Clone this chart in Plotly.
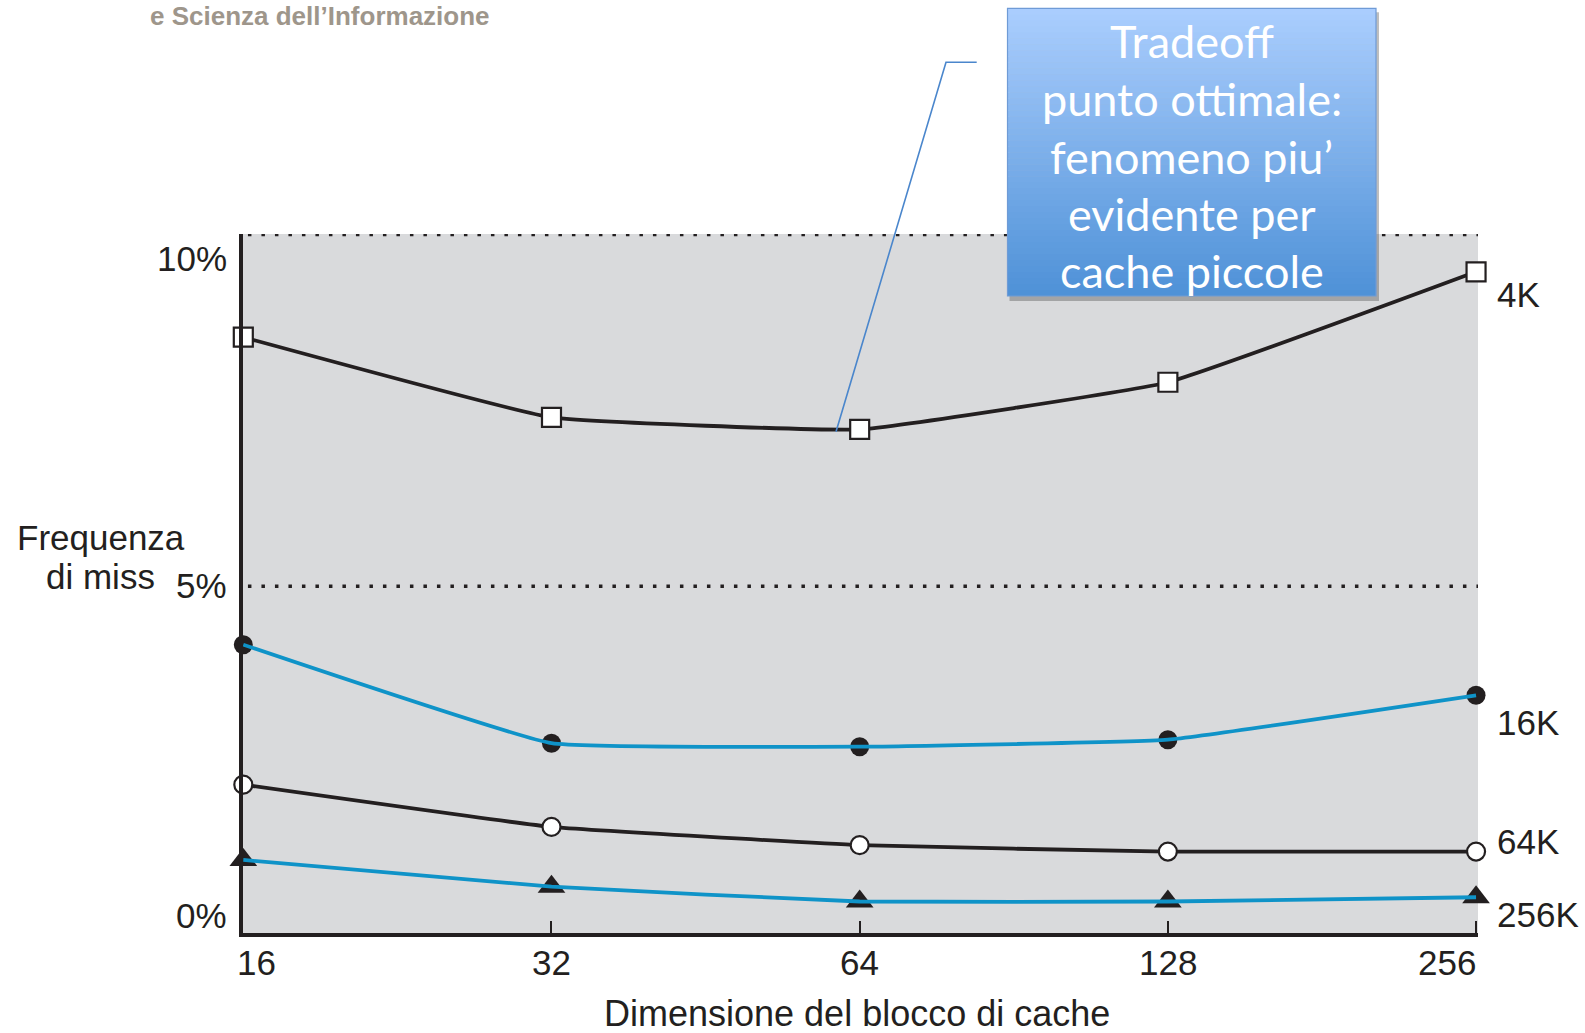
import math
import plotly.graph_objects as go

# Miss rate (%) by cache block size, one series per cache capacity
block_sizes = [16, 32, 64, 128, 256]
block_tick_labels = ["16", "32", "64", "128", "256"]
miss_4k = [8.54, 7.40, 7.23, 7.90, 9.47]
miss_16k = [4.17, 2.77, 2.72, 2.82, 3.45]
miss_64k = [2.18, 1.58, 1.32, 1.23, 1.23]
miss_256k = [1.11, 0.73, 0.52, 0.52, 0.58]
cache_labels = ["4K", "16K", "64K", "256K"]
y_tick_vals = [10, 5, 0]
y_tick_text = ["10%", "5%", "0%"]
callout_lines = ["Tradeoff", "punto ottimale:", "fenomeno piu’", "evidente per", "cache piccole"]

W, H = 1585, 1033
L, R, T, B = 243, 107, 234, 100
PW, PH = W - L - R, H - T - B

INK = "#231f20"
BLUE = "#0f93c8"
FONT = "Liberation Sans, Arial, Helvetica, sans-serif"


def px_x(p):
    return (p - L) / PW


def px_y(p):
    return (T + PH - p) / PH


fig = go.Figure()

# 4K: black line, open squares
fig.add_trace(go.Scatter(
    x=block_sizes, y=miss_4k, mode="lines+markers", cliponaxis=False,
    line=dict(color=INK, width=3.8, shape="spline", smoothing=0.3),
    marker=dict(symbol="square", size=19, color="white", line=dict(color=INK, width=2.2)),
    showlegend=False, hoverinfo="skip"))

# 64K: black line, open circles
fig.add_trace(go.Scatter(
    x=block_sizes, y=miss_64k, mode="lines+markers", cliponaxis=False,
    line=dict(color=INK, width=3.8, shape="spline", smoothing=0.3),
    marker=dict(symbol="circle", size=18, color="white", line=dict(color=INK, width=2.2)),
    showlegend=False, hoverinfo="skip"))

# 16K: filled circles under a blue line
fig.add_trace(go.Scatter(
    x=block_sizes, y=miss_16k, mode="markers", cliponaxis=False,
    marker=dict(symbol="circle", size=19, color=INK),
    showlegend=False, hoverinfo="skip"))
fig.add_trace(go.Scatter(
    x=block_sizes, y=miss_16k, mode="lines", cliponaxis=False,
    line=dict(color=BLUE, width=3.8, shape="spline", smoothing=0.3),
    showlegend=False, hoverinfo="skip"))

# 256K: filled triangles under a blue line
fig.add_trace(go.Scatter(
    x=block_sizes, y=miss_256k, mode="markers", cliponaxis=False,
    marker=dict(symbol="triangle-up", size=24, color=INK),
    showlegend=False, hoverinfo="skip"))
fig.add_trace(go.Scatter(
    x=block_sizes, y=miss_256k, mode="lines", cliponaxis=False,
    line=dict(color=BLUE, width=3.8, shape="spline", smoothing=0.3),
    showlegend=False, hoverinfo="skip"))

shapes = []
# dotted reference lines at 5% and 10%
for v in (5, 10):
    shapes.append(dict(type="line", xref="paper", yref="y", x0=0.004, x1=1, y0=v, y1=v,
                       line=dict(color=INK, width=3.5, dash="3.5px,10px"), layer="below"))

# callout box: shadow, vertical gradient, border
bx0, bx1, by0, by1 = 1007.5, 1376, 8.3, 296
shapes.append(dict(type="rect", xref="paper", yref="paper",
                   x0=px_x(bx0 + 2), x1=px_x(bx1 + 3), y0=px_y(by0 + 4), y1=px_y(by1 + 5),
                   fillcolor="rgba(40,40,40,0.30)", line=dict(width=0), layer="above"))
top_rgb = (171, 206, 254)
bot_rgb = (78, 145, 215)
N = 48
step = (by1 - by0) / N
for i in range(N):
    t = (i + 0.5) / N
    c = tuple(round(a + (b - a) * t) for a, b in zip(top_rgb, bot_rgb))
    shapes.append(dict(type="rect", xref="paper", yref="paper",
                       x0=px_x(bx0), x1=px_x(bx1),
                       y0=px_y(by0 + i * step), y1=px_y(min(by1, by0 + (i + 1) * step + 0.6)),
                       fillcolor="rgb(%d,%d,%d)" % c, line=dict(width=0), layer="above"))
shapes.append(dict(type="rect", xref="paper", yref="paper",
                   x0=px_x(bx0), x1=px_x(bx1), y0=px_y(by0), y1=px_y(by1),
                   fillcolor="rgba(0,0,0,0)", line=dict(color="#6f9bd6", width=1.2), layer="above"))

# callout leader line down to the 64-byte point of the 4K curve
path = "M %f,%f L %f,%f L %f,%f" % (px_x(976.7), px_y(62.3), px_x(946), px_y(62.3),
                                    px_x(836), px_y(431.7))
shapes.append(dict(type="path", xref="paper", yref="paper", path=path,
                   line=dict(color="#4a86cc", width=1.6), layer="above"))

annotations = []
# callout text
line_centers = [41.4, 99, 156.7, 214.3, 271]
for txt, yc in zip(callout_lines, line_centers):
    annotations.append(dict(text=txt, xref="paper", yref="paper", x=px_x(1191.5), y=px_y(yc),
                            xanchor="center", yanchor="middle", showarrow=False,
                            font=dict(family="Lato, Open Sans, sans-serif", size=45, color="white")))

# x tick labels (annotation x on a log axis is given in log10 units)
x_shifts = [13, 0, 0, 0, -29]
for xv, lab, sh in zip(block_sizes, block_tick_labels, x_shifts):
    annotations.append(dict(text=lab, xref="x", yref="paper", x=math.log10(xv), y=px_y(962.5),
                            xanchor="center", yanchor="middle", xshift=sh, showarrow=False,
                            font=dict(family=FONT, size=35, color=INK)))

# y tick labels
y_label_px = [258, 585, 915]
for lab, yp in zip(y_tick_text, y_label_px):
    annotations.append(dict(text=lab, xref="paper", yref="paper", x=px_x(229), y=px_y(yp),
                            xanchor="right", yanchor="middle", showarrow=False,
                            font=dict(family=FONT, size=35, color=INK)))

# series labels at the right end
last_vals = [miss_4k[-1], miss_16k[-1], miss_64k[-1], miss_256k[-1]]
y_shifts = [-23, -27, 10, -17]
for lab, v, ys in zip(cache_labels, last_vals, y_shifts):
    annotations.append(dict(text=lab, xref="x", yref="y", x=math.log10(block_sizes[-1]), y=v,
                            xanchor="left", yanchor="middle", xshift=19, yshift=ys,
                            showarrow=False, font=dict(family=FONT, size=35, color=INK)))

# axis titles
annotations.append(dict(text="Frequenza", xref="paper", yref="paper", x=px_x(101), y=px_y(537),
                        xanchor="center", yanchor="middle", showarrow=False,
                        font=dict(family=FONT, size=35, color=INK)))
annotations.append(dict(text="di miss", xref="paper", yref="paper", x=px_x(100), y=px_y(576),
                        xanchor="center", yanchor="middle", showarrow=False,
                        font=dict(family=FONT, size=35, color=INK)))
annotations.append(dict(text="Dimensione del blocco di cache", xref="paper", yref="paper",
                        x=px_x(857), y=px_y(1013), xanchor="center", yanchor="middle",
                        showarrow=False, font=dict(family=FONT, size=36, color=INK)))

# page header fragment
annotations.append(dict(text="<b>e Scienza dell’Informazione</b>", xref="paper", yref="paper",
                        x=px_x(148), y=px_y(16), xanchor="left", yanchor="middle",
                        showarrow=False,
                        font=dict(family=FONT, size=26, color="#9e968b")))

x_lo = math.log10(16) - 0.0003
x_hi = math.log10(256) + 0.0019
fig.update_layout(
    width=W, height=H, autosize=False,
    margin=dict(l=L, r=R, t=T, b=B, pad=0),
    paper_bgcolor="white", plot_bgcolor="#d9dadc",
    xaxis=dict(type="log", range=[x_lo, x_hi], showgrid=False, zeroline=False,
               showline=True, linecolor=INK, linewidth=3.5,
               ticks="inside", ticklen=12, tickwidth=2, tickcolor=INK,
               tickvals=block_sizes[1:], showticklabels=False),
    yaxis=dict(range=[0.072, 10.007], showgrid=False, zeroline=False,
               showline=True, linecolor=INK, linewidth=3.5,
               ticks="", showticklabels=False),
    shapes=shapes, annotations=annotations,
)

fig.write_html("out.html")
